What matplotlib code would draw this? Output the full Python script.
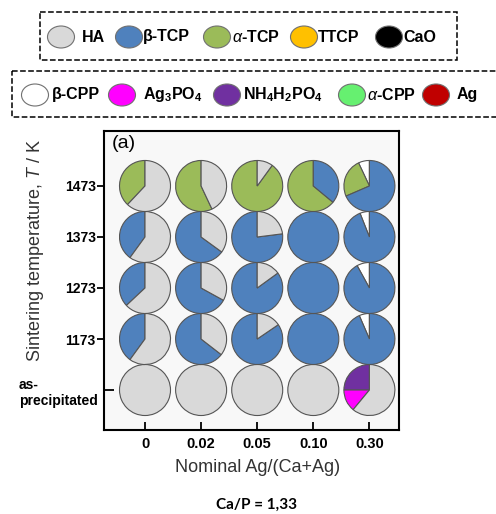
import numpy as np
import matplotlib
matplotlib.use("Agg")
import matplotlib.pyplot as plt
from matplotlib.patches import Ellipse, Rectangle

plt.rcParams['font.family'] = ['Liberation Sans', 'DejaVu Sans']
plt.rcParams['mathtext.fontset'] = 'custom'
plt.rcParams['mathtext.rm'] = 'Liberation Sans'
plt.rcParams['mathtext.it'] = 'Liberation Sans:italic'
plt.rcParams['mathtext.bf'] = 'Liberation Sans:bold'

# data
cols = ["0", "0.02", "0.05", "0.10", "0.30"]
rows = ["as-\nprecipitated", "1173", "1273", "1373", "1473"]

# phase fractions, rows (as-precipitated -> 1473) x cols
b_cpp = [[0, 0, 0, 0, 0],
         [0, 0, 0, 0, 0.065],
         [0, 0, 0, 0, 0.08],
         [0, 0, 0, 0, 0.06],
         [0, 0, 0, 0, 0.07]]
nh4h2po4 = [[0, 0, 0, 0, 0.25],
            [0, 0, 0, 0, 0],
            [0, 0, 0, 0, 0],
            [0, 0, 0, 0, 0],
            [0, 0, 0, 0, 0]]
ag3po4 = [[0, 0, 0, 0, 0.14],
          [0, 0, 0, 0, 0],
          [0, 0, 0, 0, 0],
          [0, 0, 0, 0, 0],
          [0, 0, 0, 0, 0]]
a_tcp = [[0, 0, 0, 0, 0],
         [0, 0, 0, 0, 0],
         [0, 0, 0, 0, 0],
         [0, 0, 0, 0, 0],
         [0.38, 0.57, 0.90, 0.64, 0.245]]
b_tcp = [[0, 0, 0, 0, 0],
         [0.40, 0.645, 0.845, 1, 0.935],
         [0.37, 0.67, 0.85, 1, 0.92],
         [0.40, 0.65, 0.77, 1, 0.94],
         [0, 0, 0, 0.36, 0.685]]
ha = [[1, 1, 1, 1, 0.61],
      [0.60, 0.355, 0.155, 0, 0],
      [0.63, 0.33, 0.15, 0, 0],
      [0.60, 0.35, 0.23, 0, 0],
      [0.62, 0.43, 0.10, 0, 0]]

legend1 = ["HA", "β-TCP", r"$\alpha$-TCP", "TTCP", "CaO"]
legend1_colors = ["#d9d9d9", "#4f81bd", "#9bbb59", "#ffc000", "black"]
legend2 = ["β-CPP", r"Ag$_\mathbf{3}$PO$_\mathbf{4}$",
           r"NH$_\mathbf{4}$H$_\mathbf{2}$PO$_\mathbf{4}$", r"$\alpha$-CPP", "Ag"]
legend2_colors = ["white", "#ff00ff", "#7030a0", "#66f070", "#c00000"]

# pie wedge order, counter-clockwise from 12 o'clock
phases = [b_cpp, nh4h2po4, ag3po4, a_tcp, b_tcp, ha]
phase_colors = ["white", "#7030a0", "#ff00ff", "#9bbb59", "#4f81bd", "#d9d9d9"]

W, H = 496, 514
fig = plt.figure(figsize=(W / 100, H / 100), dpi=100)

# overlay in pixel coords for the legend boxes and caption
ov = fig.add_axes([0, 0, 1, 1])
ov.set_xlim(0, W)
ov.set_ylim(H, 0)
ov.axis('off')

ov.add_patch(Rectangle((40, 12), 417, 48, fill=False, ec='black', ls='--', lw=1.1))
ov.add_patch(Rectangle((12, 71), 500, 46, fill=False, ec='black', ls='--', lw=1.1))

pos1 = [(61, 82), (129, 143), (217, 232), (304, 318), (389, 403)]
pos2 = [(35, 52), (122, 143), (227, 243), (352, 367), (436, 457)]
for labels, colors, pos, yc in [(legend1, legend1_colors, pos1, 37),
                                (legend2, legend2_colors, pos2, 95)]:
    for lab, c, (cx, tx) in zip(labels, colors, pos):
        ov.add_patch(Ellipse((cx, yc), 27, 22, fc=c, ec='#707070', lw=0.8))
        ov.text(tx, yc, lab, fontsize=11.5, fontweight='bold', ha='left', va='center')

ov.text(257, 505, "Ca/P = 1,33", fontsize=11, fontweight='bold', family='Lato',
        ha='center', va='center')

# main panel
ax = fig.add_axes([104 / W, (H - 430) / H, 295 / W, 299 / H])
ax.set_facecolor('#f8f8f8')

dx = 1.1
for r in range(len(rows)):
    for c in range(len(cols)):
        fr = [p[r][c] for p in phases]
        vals = [v for v in fr if v > 0]
        cl = [phase_colors[i] for i, v in enumerate(fr) if v > 0]
        ax.pie(vals, colors=cl, startangle=90, counterclock=True,
               center=(c * dx, r), radius=0.5, frame=True,
               wedgeprops=dict(edgecolor='#555555', linewidth=0.8))

ax.set_aspect('auto')
ax.set_xlim(-0.804, 4.98)
ax.set_ylim(-0.784, 5.078)

ax.set_xticks([c * dx for c in range(len(cols))])
ax.set_xticklabels(cols, fontsize=10.5, fontweight='bold')
ax.set_yticks(range(1, len(rows)))
ax.set_yticklabels(rows[1:], fontsize=10, fontweight='bold')
ax.set_yticks([0], minor=True)
ax.set_yticklabels([rows[0]], minor=True, fontsize=10, fontweight='bold')
for t in ax.get_yticklabels(minor=True):
    t.set_multialignment('left')

ax.tick_params(axis='x', direction='in', length=6, width=1.3, pad=5)
ax.tick_params(axis='y', which='major', direction='out', length=5, width=1.3, pad=1)
ax.tick_params(axis='y', which='minor', direction='in', length=7, width=1.3, pad=4.5)
for s in ax.spines.values():
    s.set_linewidth(1.5)

ax.set_xlabel("Nominal Ag/(Ca+Ag)", fontsize=13, color='#333333')
ax.xaxis.set_label_coords(0.519, -0.097)
ax.set_ylabel("Sintering temperature, $T$ / K", fontsize=13, color='#333333')
ax.yaxis.set_label_coords(-0.197, 0.60)

ax.text(0.027, 0.957, "(a)", transform=ax.transAxes, fontsize=14,
        ha='left', va='center')

fig.savefig("out.png", dpi=100)
